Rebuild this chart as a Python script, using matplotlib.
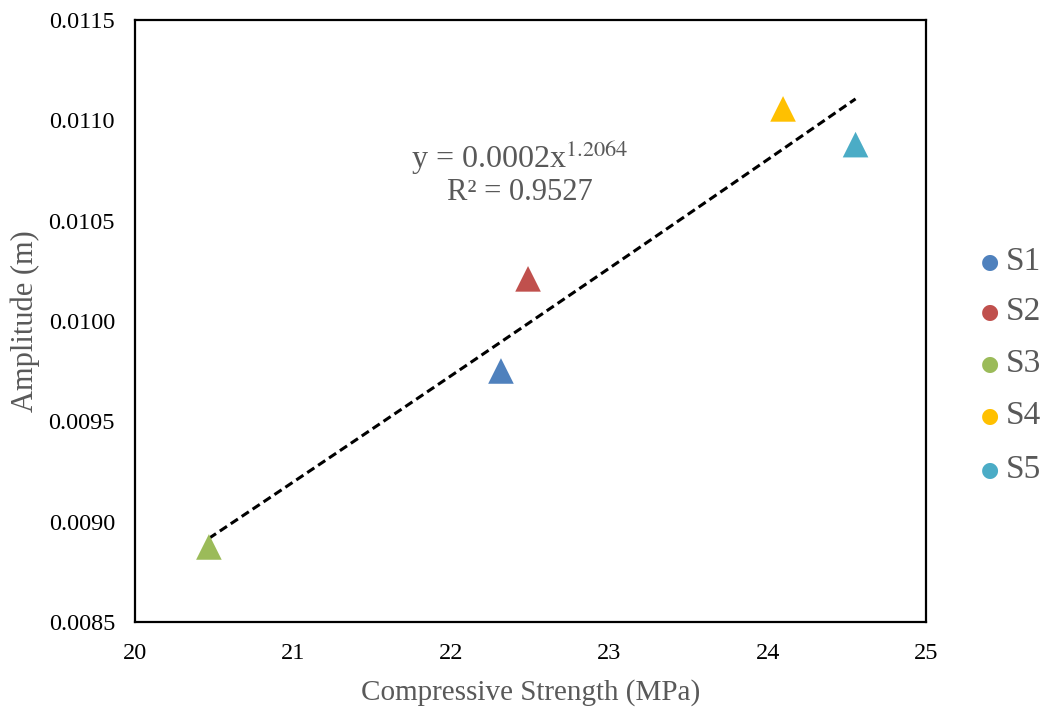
import numpy as np
import matplotlib
matplotlib.use("Agg")
import matplotlib.pyplot as plt

# Specimen data: compressive strength vs. vibration amplitude
labels = ["S1", "S2", "S3", "S4", "S5"]
strength = [22.315, 22.486, 20.47, 24.097, 24.555]
amplitude = [0.009751, 0.010210, 0.008874, 0.011057, 0.010879]
colors = ["#4F81BD", "#C0504D", "#9BBB59", "#FFC000", "#4BACC6"]

x_ticks = [20, 21, 22, 23, 24, 25]
y_ticks = [0.0085, 0.0090, 0.0095, 0.0100, 0.0105, 0.0110, 0.0115]

plt.rcParams["font.family"] = ["Liberation Serif", "DejaVu Serif"]
grey = "#595959"

fig = plt.figure(figsize=(10.49, 7.10), dpi=100)
ax = fig.add_axes([134.5 / 1049, 1 - 622 / 710, (926 - 134.5) / 1049, (622 - 20) / 710])

# Power-law trendline fitted in log-log space
b, loga = np.polyfit(np.log(strength), np.log(amplitude), 1)
xs = np.linspace(min(strength), max(strength), 100)
ax.plot(xs, np.exp(loga) * xs ** b, color="black", linestyle=(0, (2.8, 1.5)), linewidth=2.2, zorder=2)

for xv, yv, c in zip(strength, amplitude, colors):
    ax.scatter([xv], [yv], marker="^", s=340, color=c, edgecolors="none", zorder=3)

ax.set_xlim(20, 25)
ax.set_ylim(0.0085, 0.0115)
ax.set_xticks(x_ticks)
ax.set_yticks(y_ticks)
ax.set_xticklabels([str(t) for t in x_ticks])
ax.set_yticklabels([f"{t:.4f}" for t in y_ticks])
ax.tick_params(length=0, labelsize=17.5, colors="black", pad=14)
ax.tick_params(axis="x", pad=15)
for sp in ax.spines.values():
    sp.set_linewidth(1.6)
    sp.set_color("black")

ax.set_xlabel("Compressive Strength (MPa)", fontsize=21, color=grey, labelpad=11)
ax.set_ylabel("Amplitude (m)", fontsize=22, color=grey, labelpad=6)

ax.text(22.435, 0.010812, "y = 0.0002x$^{1.2064}$", fontsize=23, color=grey, ha="center", va="center",
        math_fontfamily="stix")
ax.text(22.435, 0.010640, "R² = 0.9527", fontsize=22, color=grey, ha="center", va="center")

# Legend with circular markers to the right of the axes
legend_y = [262, 312, 364, 416, 470]
for lab, c, ly in zip(labels, colors, legend_y):
    fig.text(990 / 1049, 1 - ly / 710, "●", color=c, fontsize=15, ha="center", va="center",
             family="DejaVu Sans")
    fig.text(1006 / 1049, 1 - ly / 710, lab, color=grey, fontsize=24, ha="left", va="center")

fig.savefig("out.png", dpi=100)
